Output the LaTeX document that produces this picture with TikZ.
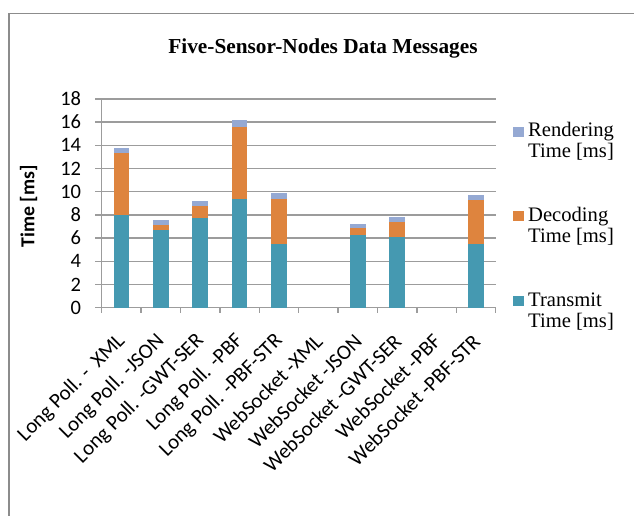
\documentclass[tikz,border=0pt]{standalone}
\usepackage{fontspec}
\setmainfont{Liberation Serif}
\newfontfamily\carl{Carlito}
\definecolor{txcol}{HTML}{4599B1}
\definecolor{dccol}{HTML}{DE843E}
\definecolor{rdcol}{HTML}{95A9D3}
\definecolor{gridcol}{HTML}{9C9C9C}
\definecolor{framecol}{HTML}{8C8C8C}
\tikzset{
  gridline/.style={draw=gridcol, line width=1.4pt},
  axisline/.style={draw=gridcol, line width=1.4pt},
  ticklab/.style={inner sep=0pt, font=\carl\fontsize{20.5}{22}\selectfont},
  catlab/.style={inner sep=0pt, rotate=45, anchor=east, font=\carl\fontsize{21}{22}\selectfont},
  legtext/.style={inner sep=0pt, anchor=base west, font=\fontsize{20.6}{21}\selectfont},
  legbox/.style={minimum width=10.5pt, minimum height=10pt, inner sep=0pt, anchor=south west}
}
\begin{document}
\begin{tikzpicture}[x=1pt,y=-1pt]
\useasboundingbox (0,0) rectangle (634,516);
% outer chart frame
\draw[framecol, line width=1.5pt] (9,516) -- (9,13.5) -- (634,13.5);
% title
\node[inner sep=0pt, anchor=base, font=\bfseries\fontsize{21.3}{24}\selectfont] (title) at (323,53.3) {Five-Sensor-Nodes Data Messages};
% axis title
\node[inner sep=0pt, rotate=90, font=\carl\bfseries\fontsize{19.8}{22}\selectfont] (ytitle) at (28.5,206.5) {Time [ms]};
% plot area: x in categories, y in ms
\begin{scope}[xshift=101.7pt, yshift=-307.7pt, x=39.4pt, y=11.6pt]
  \foreach \v in {2,4,...,18} {
    \draw[gridline] (0,\v) -- (10,\v);
  }
  \foreach \v in {0,2,...,18} {
    \draw[axisline] (-0.17,\v) -- (0,\v);
    \node[ticklab, anchor=east] (yl\v) at ([xshift=-0.7pt]-0.5,\v) {\v};
  }
  \draw[axisline] (0,0) -- (0,18);
  \draw[axisline] (0,0) -- (10,0);
  \foreach \k in {0,...,10} {
    \draw[axisline] (\k,0) -- (\k,-0.45);
  }
  % stacked bars: transmit / decoding / rendering tops
  \foreach \k/\a/\b/\c in {1/8.0/13.36/13.77, 2/6.7/7.16/7.53, 3/7.7/8.8/9.2,
      4/9.34/15.6/16.2, 5/5.5/9.37/9.9, 7/6.27/6.9/7.2, 8/6.1/7.4/7.8,
      10/5.46/9.3/9.7} {
    \fill[txcol] (\k-0.698,0) rectangle (\k-0.302,\a);
    \fill[dccol] (\k-0.698,\a) rectangle (\k-0.302,\b);
    \fill[rdcol] (\k-0.698,\b) rectangle (\k-0.302,\c);
  }
  % category labels
  \foreach \k/\t in {1/{Long Poll. -\ \ XML}, 2/{Long Poll. -JSON}, 3/{Long Poll. -GWT-SER},
      4/{Long Poll. -PBF}, 5/{Long Poll. -PBF-STR}, 6/{WebSocket -XML},
      7/{WebSocket -JSON}, 8/{WebSocket -GWT-SER}, 9/{WebSocket -PBF},
      10/{WebSocket -PBF-STR}} {
    \node[catlab] (cat\k) at ([xshift=0.5pt, yshift=-30pt]\k-0.5,0) {\t};
  }
\end{scope}
% legend
\node[legbox, fill=rdcol] (kr) at (513,136.8) {};
\node[legtext] (lr1) at (528,136.8) {Rendering};
\node[legtext] (lr2) at (528,157.8) {Time [ms]};
\node[legbox, fill=dccol] (kd) at (513,221.5) {};
\node[legtext] (ld1) at (528,221.5) {Decoding};
\node[legtext] (ld2) at (528,242.5) {Time [ms]};
\node[legbox, fill=txcol] (kt) at (513,306.3) {};
\node[legtext] (lt1) at (528,306.3) {Transmit};
\node[legtext] (lt2) at (528,327.3) {Time [ms]};
\end{tikzpicture}
\end{document}
